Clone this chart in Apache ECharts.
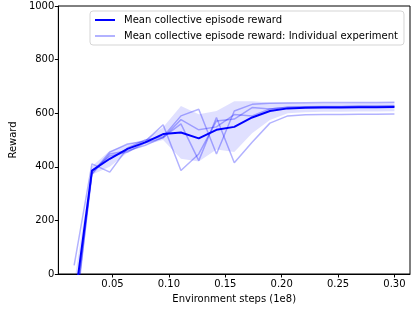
<!DOCTYPE html>
<html><head><meta charset="utf-8">
<script src="https://cdn.jsdelivr.net/npm/echarts@6/dist/echarts.min.js"></script>
<style>html,body{margin:0;padding:0;background:#fff}#c{width:415px;height:309px}</style>
</head><body><div id="c"></div>
<script>
const steps = [0.016, 0.0318, 0.0476, 0.0633, 0.0791, 0.0949, 0.1107, 0.1265, 0.1422, 0.158, 0.1738, 0.1896, 0.2054, 0.2211, 0.2369, 0.2527, 0.2685, 0.2842, 0.300];
const meanReward = [-118, 386, 430, 467, 491, 522, 528, 506, 538, 549, 584, 608, 618, 620, 621, 621, 622, 622, 623];
const exp1 = [32, 411, 380, 470, 500, 512, 590, 615, 448, 608, 633, 637, 638, 639, 640, 640, 640, 640, 641];
const exp2 = [-140, 375, 455, 485, 495, 557, 386, 448, 571, 578, 621, 616, 622, 623, 624, 624, 625, 625, 626];
const exp3 = [-170, 372, 448, 460, 480, 510, 560, 423, 584, 415, 492, 563, 590, 594, 595, 595, 596, 596, 597];
const exp4 = [-200, 385, 440, 455, 490, 508, 576, 538, 549, 595, 590, 616, 622, 624, 625, 625, 627, 627, 628];
const bandLower = [-210, 370, 400, 452, 482, 500, 430, 420, 465, 455, 525, 575, 600, 604, 605, 605, 606, 606, 607];
const bandUpper = [-30, 402, 460, 484, 502, 548, 627, 596, 608, 645, 645, 640, 640, 638, 638, 638, 639, 639, 640];
const xTicks = [0.05, 0.10, 0.15, 0.20, 0.25, 0.30];
const yTicks = [0, 200, 400, 600, 800, 1000];

const MEAN_NAME = 'Mean collective episode reward';
const IND_NAME = 'Mean collective episode reward: Individual experiment';
const font = 'DejaVu Sans';
const pair = arr => arr.map((v, i) => [steps[i], v]);

const indSeries = [exp1, exp2, exp3, exp4].map(e => ({
  type: 'line', name: IND_NAME, data: pair(e), symbol: 'none', z: 3,
  lineStyle: {color: 'rgba(0,0,255,0.3)', width: 1.5},
  itemStyle: {color: 'rgba(0,0,255,0.3)'}, clip: true
}));

const chart = echarts.init(document.getElementById('c'), null, {renderer: 'canvas'});
chart.setOption({
  animation: false,
  grid: {left: 48, right: 5, top: 6, bottom: 33, show: true, borderColor: '#000', borderWidth: 1, backgroundColor: 'transparent'},
  legend: {
    data: [MEAN_NAME, IND_NAME], orient: 'vertical', left: 90, top: 11,
    icon: 'path://M0 0H20V2H0Z',
    itemWidth: 20, itemHeight: 2, itemGap: 6, selectedMode: false,
    padding: [4, 6, 4, 5], borderColor: '#d5d5d5', borderWidth: 1, borderRadius: 3,
    backgroundColor: 'rgba(255,255,255,0.8)',
    textStyle: {fontFamily: font, fontSize: 10, color: '#000', padding: [0, 0, 0, 4]}
  },
  xAxis: {
    type: 'value', min: 0.002, max: 0.3138,
    name: 'Environment steps (1e8)', nameLocation: 'middle', nameGap: 20,
    nameTextStyle: {fontFamily: font, fontSize: 10, color: '#000'},
    splitLine: {show: false},
    axisLine: {lineStyle: {color: '#000', width: 1}},
    axisTick: {show: true, length: 3.5, customValues: xTicks, lineStyle: {color: '#000'}},
    axisLabel: {customValues: xTicks, margin: 5, fontFamily: font, fontSize: 10, color: '#000',
      formatter: v => v.toFixed(2)}
  },
  yAxis: {
    type: 'value', min: 0, max: 1000, interval: 200,
    name: 'Reward', nameLocation: 'middle', nameGap: 39,
    nameTextStyle: {fontFamily: font, fontSize: 10, color: '#000'},
    splitLine: {show: false},
    axisLine: {show: true, lineStyle: {color: '#000', width: 1}},
    axisTick: {show: true, length: 3.5, lineStyle: {color: '#000'}},
    axisLabel: {margin: 4, fontFamily: font, fontSize: 10, color: '#000',
      formatter: v => String(v)}
  },
  series: [
    {
      type: 'custom', name: 'band', z: 1, clip: true, silent: true,
      data: [[steps[0], 0]],
      renderItem: function (params, api) {
        const pts = [];
        for (let i = 0; i < steps.length; i++) pts.push(api.coord([steps[i], bandUpper[i]]));
        for (let i = steps.length - 1; i >= 0; i--) pts.push(api.coord([steps[i], bandLower[i]]));
        const cs = params.coordSys;
        return {
          type: 'polygon', shape: {points: pts},
          style: {fill: 'rgba(0,0,255,0.12)', stroke: null},
          clipPath: {type: 'rect', shape: {x: cs.x, y: cs.y, width: cs.width, height: cs.height}}
        };
      }
    },
    ...indSeries,
    {
      type: 'line', name: MEAN_NAME, data: pair(meanReward), symbol: 'none', z: 5,
      lineStyle: {color: '#0000ff', width: 2}, itemStyle: {color: '#0000ff'}, clip: true
    }
  ]
});
</script></body></html>
